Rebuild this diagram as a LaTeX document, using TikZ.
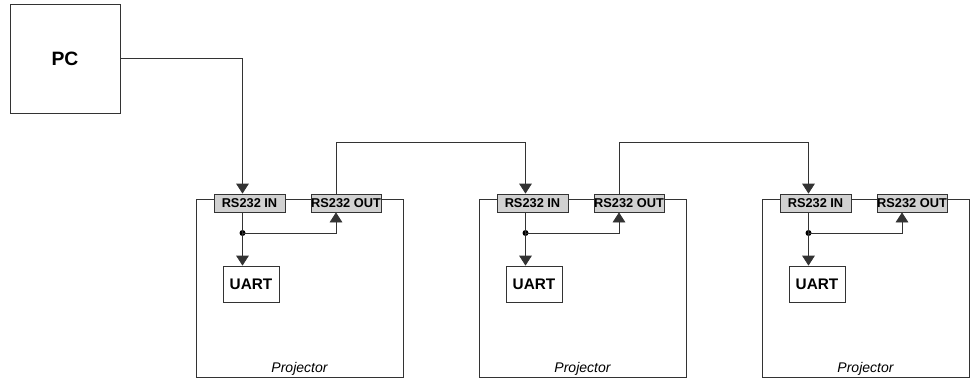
\documentclass[tikz,border=0pt]{standalone}
\usepackage{fontspec}
\setmainfont{Liberation Sans}
\usetikzlibrary{arrows.meta}

\tikzset{
	wire/.style={draw=black!80, line width=0.6pt},
	feed/.style={wire, -{Triangle[length=7.5pt,width=9.5pt]}},
	unitbox/.style={draw=black!80, line width=0.6pt, fill=white, inner sep=0pt},
	portbox/.style={draw=black!80, line width=0.6pt, fill=black!18, inner sep=0pt,
		minimum height=13.5pt, font=\fontsize{9.6}{9.6}\selectfont\bfseries},
	junction/.style={circle, fill=black, inner sep=0pt, minimum size=4.5pt}
}

\begin{document}
\begin{tikzpicture}[x=0.75pt,y=0.75pt,yscale=-1,xscale=1]
	\useasboundingbox (0,0) rectangle (972,379);
	
	% PC
	\node [unitbox, minimum width=82.5pt, minimum height=81.75pt,
		font=\fontsize{14.5}{14.5}\selectfont\bfseries] (pc) at (65,58.5) {PC};
	
	% projectors
	\foreach \i [evaluate=\i as \xl using 196+283*(\i-1)] in {1,2,3}{
		\node [unitbox, minimum width=155.25pt, minimum height=133.5pt] (proj\i) at (\xl+103.5,288) {};
		\node [anchor=base, font=\fontsize{10.5}{10.5}\selectfont\itshape] (lbl\i) at (\xl+103.5,372) {Projector};
		\node [portbox, minimum width=53.25pt] (in\i) at (\xl+53.5,203) {RS232 IN};
		\node [portbox, minimum width=52.5pt] (out\i) at (\xl+150,203) {RS232 OUT};
		\node [unitbox, minimum width=42pt, minimum height=27pt,
			font=\fontsize{11.5}{11.5}\selectfont\bfseries] (uart\i) at (\xl+55,284) {UART};
		\node [junction] (jn\i) at (\xl+46.5,233) {};
		\draw [wire] ([xshift=-5.25pt]in\i.south) -- (jn\i.center);
		\draw [feed] (jn\i.center) -- (jn\i |- uart\i.north);
		\draw [feed] (jn\i.center) -| ([xshift=-7.5pt]out\i.south);
	}
	
	% daisy chain
	\draw [feed] (pc.east) -| ([xshift=-5.25pt]in1.north);
	\foreach \i/\j in {1/2,2/3}{
		\coordinate (hop\j) at ([xshift=-5.25pt]in\j.north |- 0,142);
		\draw [feed] ([xshift=-7.5pt]out\i.north) |- (hop\j) -- ([xshift=-5.25pt]in\j.north);
	}
	
\end{tikzpicture}
\end{document}
